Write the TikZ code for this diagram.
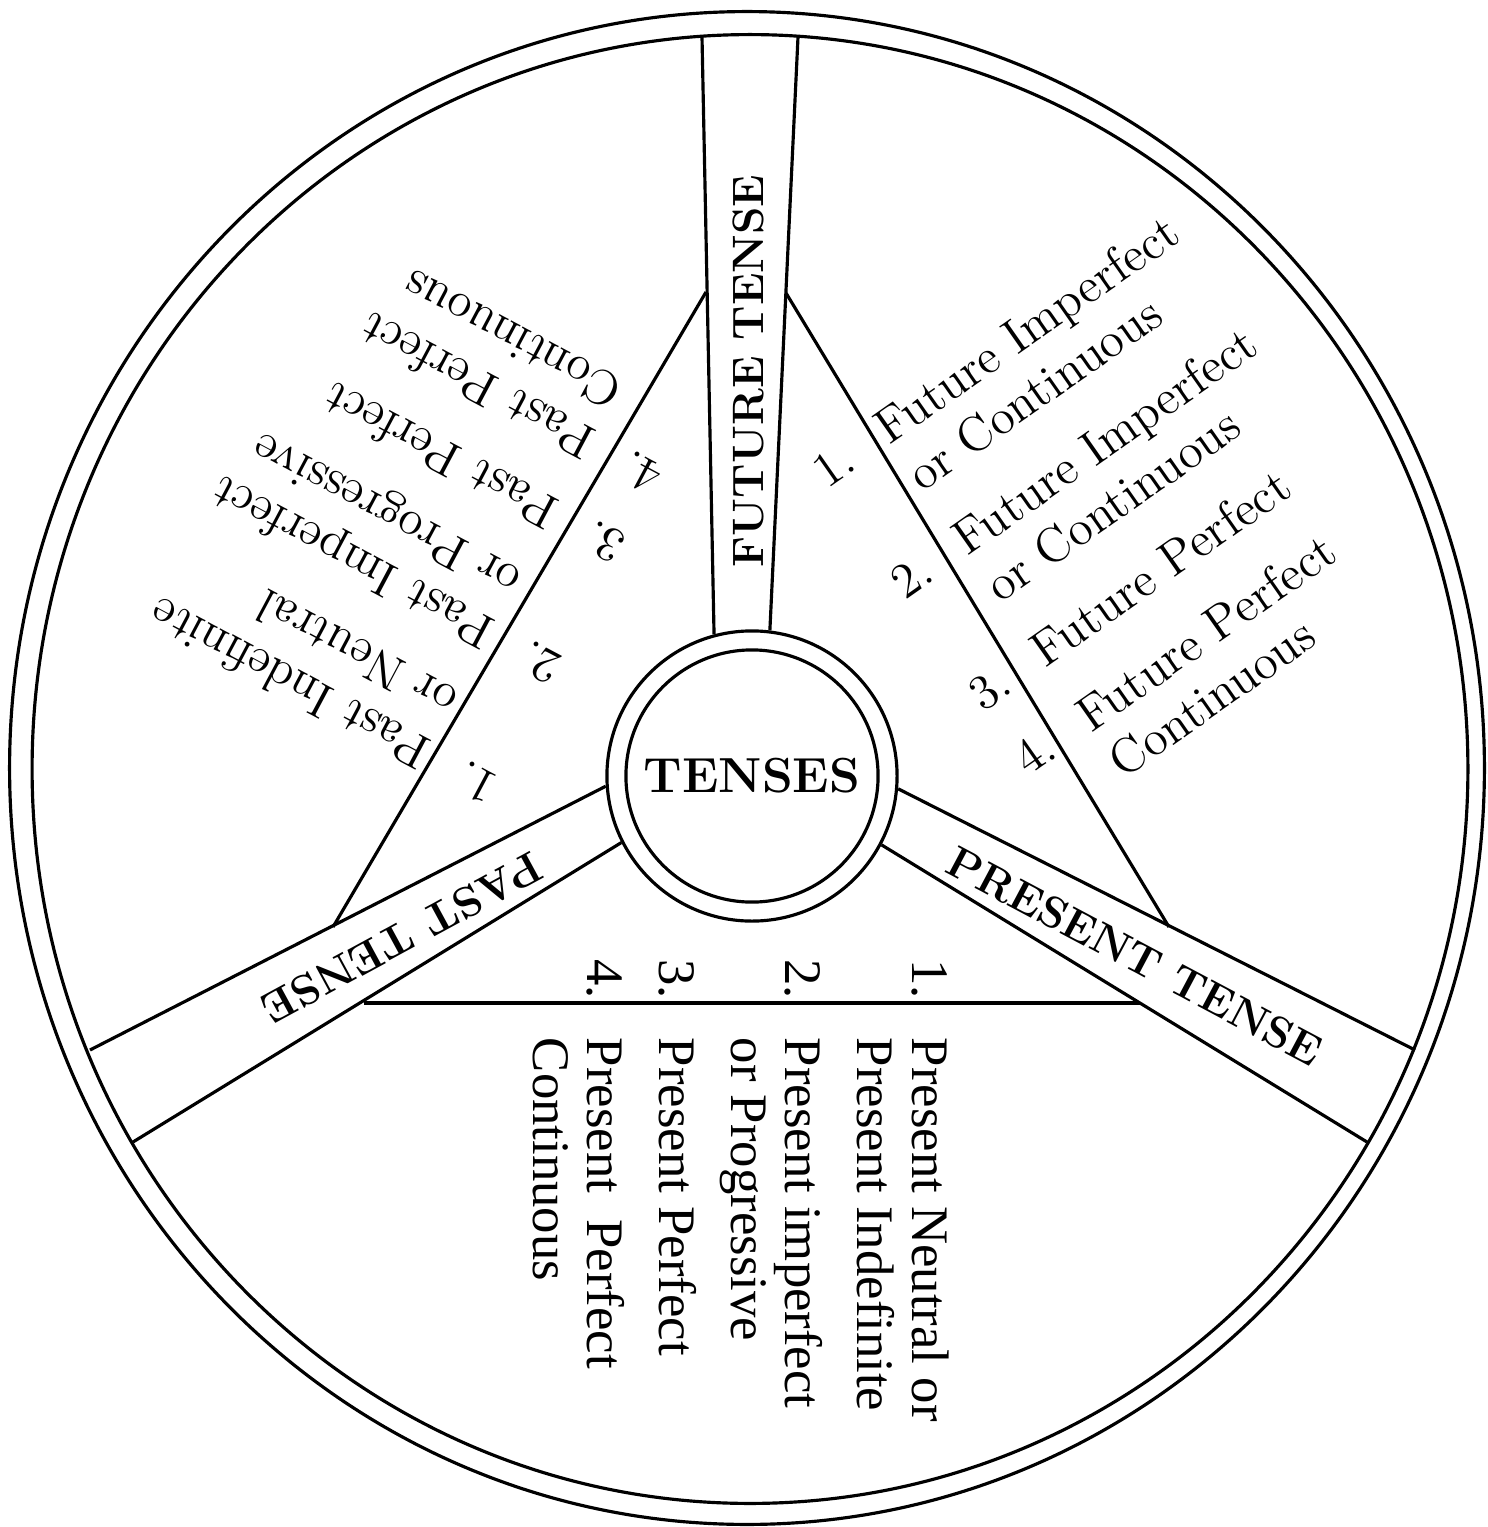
\documentclass[tikz,border=0pt]{standalone}
\usepackage{fontspec}
\newfontfamily\presentfont{Liberation Serif}

\begin{document}
\begin{tikzpicture}[x=0.01cm, y=-0.01cm, line width=0.9pt,
    title/.style={font=\fontsize{12.5}{14}\selectfont\bfseries, inner sep=0pt},
    tenselist/.style={font=\fontsize{14}{16.2}\selectfont, inner sep=0pt, anchor=base west}]

  \useasboundingbox (0,0) rectangle (1487,1527);

  % rim
  \draw (747,768) ellipse [x radius=7.37cm, y radius=7.56cm];
  \draw (750,769) ellipse [x radius=7.175cm, y radius=7.34cm];

  % hub
  \node (hub) [circle, draw, minimum size=2.9cm, inner sep=0pt] at (752,776) {};
  \node (tenses) [circle, draw, minimum size=2.52cm, inner sep=0pt,
        font=\fontsize{14}{16}\selectfont\bfseries] at (hub) {TENSES};

  % spoke ends on the rim
  \coordinate (fut1) at (702,37);
  \coordinate (fut2) at (798,37);
  \coordinate (pres1) at (1415,1050);
  \coordinate (pres2) at (1367,1142);
  \coordinate (past1) at (90,1050);
  \coordinate (past2) at (133,1142);

  \draw (hub.105) -- (fut1);
  \draw (hub.83) -- (fut2);
  \draw (hub.-5) -- (pres1);
  \draw (hub.-28) -- (pres2);
  \draw (hub.184) -- (past1);
  \draw (hub.207) -- (past2);

  % triangle between the spokes
  \coordinate (tri1) at (706,292);
  \coordinate (tri2) at (786,293);
  \coordinate (tri3) at (333,927);
  \coordinate (tri4) at (1169,927);
  \coordinate (tri5) at (364,1003);
  \coordinate (tri6) at (1140,1003);

  \draw (tri1) -- (tri3);
  \draw (tri2) -- (tri4);
  \draw (tri5) -- (tri6);

  % spoke labels
  \node[title, rotate=90] (future) at (748,371) {FUTURE TENSE};
  \node[title, rotate=-28] (present) at (1135,956) {PRESENT TENSE};
  \node[title, rotate=208.5] (past) at (402,938) {PAST TENSE};

  % lists
  \node[tenselist, rotate=35] (futlist) at (826,490) {%
    \begin{tabular}[t]{@{}l@{\hspace{11pt}}l@{}}
      1. & Future Imperfect\\
         & or Continuous\\[6.3pt]
      2. & Future Imperfect\\
         & or Continuous\\[6.3pt]
      3. & Future Perfect\\[6.3pt]
      4. & Future Perfect\\
         & Continuous
    \end{tabular}};

  \node[tenselist, rotate=152] (pastlist) at (502,778) {%
    \begin{tabular}[t]{@{}l@{\hspace{11pt}}l@{}}
      1. & Past Indefinite\\
         & or Neutral\\[6.3pt]
      2. & Past Imperfect\\
         & or Progressive\\[6.3pt]
      3. & Past Perfect\\[6.3pt]
      4. & Past Perfect\\
         & Continuous
    \end{tabular}};

  \node[tenselist, font=\presentfont\fontsize{15}{15.4}\selectfont, rotate=-90] (preslist) at (912,958) {%
    \begin{tabular}[t]{@{}l@{\hspace{11pt}}l@{}}
      1. & Present Neutral or\\
         & Present Indefinite\\[5.1pt]
      2. & Present imperfect\\
         & or Progressive\\[5.1pt]
      3. & Present Perfect\\[5.1pt]
      4. & Present~ Perfect\\
         & Continuous
    \end{tabular}};
\end{tikzpicture}
\end{document}
